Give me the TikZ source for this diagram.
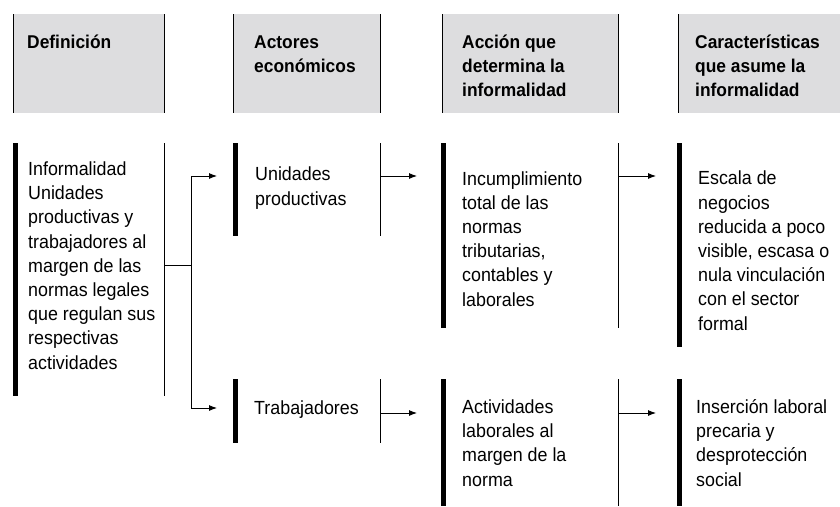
\documentclass[tikz,border=0pt]{standalone}
\usepackage{fontspec}
\setmainfont{Liberation Sans}[FakeStretch=0.94]
\usetikzlibrary{arrows.meta}
\definecolor{headgray}{RGB}{221,221,223}

\begin{document}
\begin{tikzpicture}[x=1pt,y=-1pt,
    headbox/.style={fill=headgray,anchor=north west,inner sep=0pt,outer sep=0pt},
    cell/.style={anchor=north west,inner sep=0pt,outer sep=0pt},
    bar/.style={line width=4.6pt},
    rule/.style={line width=0.9pt},
    arr/.style={line width=0.9pt,-{Latex[length=8pt,width=6pt]}},
    % el texto se coloca por la linea base de su ultima linea
    headtxt/.style={anchor=base west,align=left,inner sep=0pt,
        font=\fontsize{18.5}{24}\selectfont\bfseries},
    bodytxt/.style={anchor=base west,align=left,inner sep=0pt,
        font=\fontsize{19}{24.2}\selectfont}]
    \useasboundingbox (0,0) rectangle (840,506);

    % Cabecera
    \foreach \n/\x/\w in {hdef/13/151, hact/233/147, hacc/442/176, hcar/678/162}
    {
        \node[headbox,minimum width=\w,minimum height=99] (\n) at (\x,14) {};
        \draw[rule] (\n.north west) -- (\n.south west);
    }
    \foreach \n in {hdef,hact,hacc}
        \draw[rule] (\n.north east) -- (\n.south east);

    \node[headtxt] (thdef) at (27,48) {Definición};
    \node[headtxt] (thact) at (254,72) {Actores\\económicos};
    \node[headtxt] (thacc) at (462,96) {Acción que\\determina la\\informalidad};
    \node[headtxt] (thcar) at (695,96) {Características\\que asume la\\informalidad};

    % Celdas
    \foreach \n/\x/\y/\w/\h in {def/15.5/143/148.5/253, up/235.5/143/144.5/93,
        tr/235.5/379/144.5/64, inc/443.5/143/174.5/185, act/443.5/379/174.5/127,
        esc/679.5/143/150/204, ins/679.5/379/150/127}
    {
        \node[cell,minimum width=\w,minimum height=\h] (\n) at (\x,\y) {};
        \draw[bar] (\n.north west) -- (\n.south west);
    }
    \foreach \n in {def,up,tr,inc,act}
        \draw[rule] (\n.north east) -- (\n.south east);

    \node[bodytxt] (tdef) at (28,369) {Informalidad\\Unidades\\productivas y\\trabajadores al\\margen de las\\normas legales\\que regulan sus\\respectivas\\actividades};
    \node[bodytxt] (tup) at (255,205) {Unidades\\productivas};
    \node[bodytxt] (ttr) at (254,414) {Trabajadores};
    \node[bodytxt] (tinc) at (462,306) {Incumplimiento\\total de las\\normas\\tributarias,\\contables y\\laborales};
    \node[bodytxt] (tact) at (462,486) {Actividades\\laborales al\\margen de la\\norma};
    \node[bodytxt] (tesc) at (698,330) {Escala de\\negocios\\reducida a poco\\visible, escasa o\\nula vinculación\\con el sector\\formal};
    \node[bodytxt] (tins) at (696,486) {Inserción laboral\\precaria y\\desprotección\\social};

    % Conectores
    \coordinate (fork) at (191,265);
    \coordinate (tipup) at (217,176);
    \coordinate (tiptr) at (217,408);
    \draw[rule] (def.east |- fork) -- (fork);
    \draw[arr] (fork) |- (tipup);
    \draw[arr] (fork) |- (tiptr);

    \coordinate (tipinc) at (417,176);
    \coordinate (tipact) at (417,413);
    \coordinate (tipesc) at (656,176);
    \coordinate (tipins) at (656,413);
    \draw[arr] (up.east |- tipinc) -- (tipinc);
    \draw[arr] (tr.east |- tipact) -- (tipact);
    \draw[arr] (inc.east |- tipesc) -- (tipesc);
    \draw[arr] (act.east |- tipins) -- (tipins);
\end{tikzpicture}
\end{document}
